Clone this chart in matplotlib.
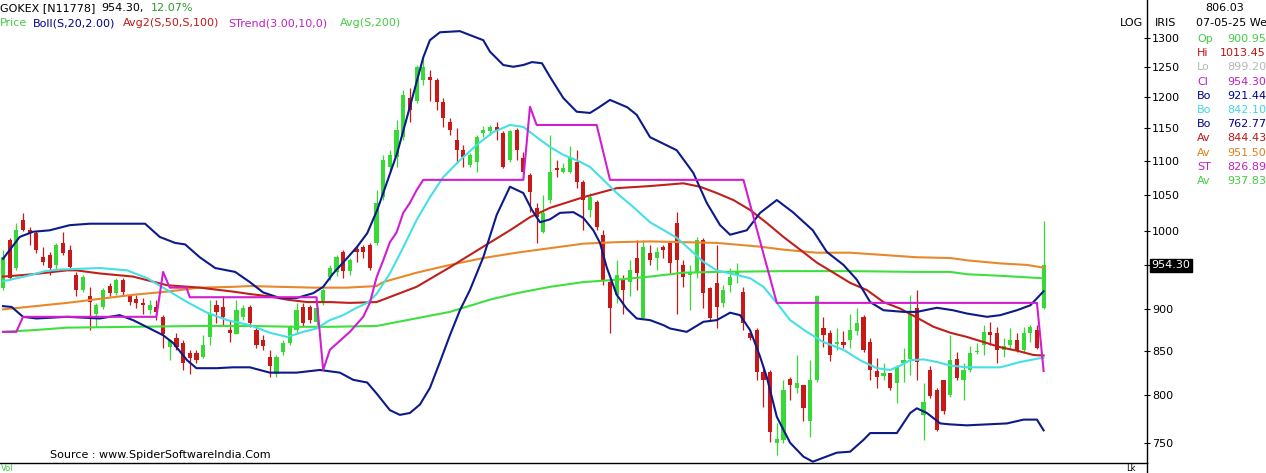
import matplotlib
matplotlib.use("Agg")
import matplotlib.pyplot as plt
from matplotlib.ticker import FixedLocator, FixedFormatter, NullLocator

# ---------------- data ----------------
opens = [925, 988, 951, 1015, 1001, 997, 965, 968, 955, 984,
         975, 942, 923, 915, 894, 902, 928, 919, 936, 915,
         912, 907, 898, 902, 890, 854, 865, 859, 847, 847,
         843, 866, 904, 902, 874, 870, 890, 902, 874, 862,
         843, 824, 849, 859, 874, 902, 902, 884, 908, 939,
         946, 972, 947, 976, 979, 981, 984, 1047, 1091, 1106,
         1136, 1198, 1193, 1228, 1233, 1228, 1192, 1160, 1132, 1116,
         1094, 1098, 1143, 1146, 1152, 1143, 1101, 1147, 1104, 1079,
         1032, 999, 1043, 1089, 1083, 1083, 1098, 1069, 1029, 1040,
         995, 933, 917, 936, 933, 964, 889, 971, 964, 979,
         984, 1011, 955, 942, 945, 988, 926, 932, 907, 929,
         942, 920, 871, 874, 826, 826, 750, 753, 818, 808,
         811, 773, 817, 876, 871, 858, 860, 862, 873, 890,
         860, 827, 821, 825, 813, 836, 841, 901, 779, 828,
         806, 817, 800, 841, 817, 828, 848, 856, 872, 871,
         851, 856, 862, 851, 871, 874, 900.95]
highs = [975, 991, 1011, 1025, 1005, 1000, 979, 972, 984, 999,
         981, 946, 942, 927, 907, 925, 932, 938, 938, 917,
         917, 913, 911, 911, 892, 864, 871, 862, 851, 851,
         868, 911, 911, 915, 886, 911, 904, 904, 878, 868,
         851, 845, 862, 880, 907, 907, 904, 904, 925, 955,
         968, 975, 964, 981, 981, 984, 1057, 1109, 1116, 1163,
         1211, 1214, 1253, 1265, 1245, 1231, 1198, 1166, 1150, 1124,
         1112, 1139, 1153, 1155, 1160, 1146, 1147, 1150, 1113, 1082,
         1039, 1050, 1139, 1101, 1097, 1122, 1116, 1072, 1053, 1043,
         1001, 936, 961, 942, 961, 988, 988, 981, 979, 981,
         987, 1026, 961, 955, 992, 991, 927, 981, 929, 951,
         958, 927, 873, 876, 833, 828, 770, 817, 820, 845,
         811, 839, 917, 890, 874, 876, 873, 894, 901, 892,
         865, 842, 836, 825, 834, 853, 917, 923, 813, 833,
         808, 817, 868, 848, 836, 855, 859, 880, 884, 878,
         865, 876, 871, 878, 880, 880, 1013.45]
lows = [923, 936, 948, 1000, 981, 971, 955, 942, 948, 968,
        951, 915, 921, 874, 878, 899, 916, 917, 917, 904,
        901, 894, 894, 886, 853, 839, 851, 828, 824, 836,
        842, 857, 882, 880, 860, 869, 886, 878, 853, 851,
        820, 820, 845, 857, 870, 879, 882, 880, 904, 936,
        941, 938, 942, 959, 964, 948, 981, 1043, 1083, 1091,
        1132, 1160, 1190, 1219, 1193, 1179, 1152, 1139, 1097, 1091,
        1091, 1083, 1136, 1139, 1132, 1089, 1098, 1101, 1082, 1026,
        984, 998, 1039, 1076, 1082, 1082, 1060, 1001, 1019, 1001,
        929, 871, 907, 894, 915, 923, 888, 955, 948, 964,
        944, 894, 927, 898, 938, 901, 886, 877, 902, 920,
        932, 874, 862, 817, 787, 751, 738, 750, 795, 802,
        773, 756, 815, 854, 838, 851, 853, 853, 868, 849,
        817, 808, 817, 806, 792, 815, 822, 817, 753, 797,
        762, 780, 798, 817, 795, 826, 846, 845, 856, 836,
        843, 851, 849, 849, 860, 852, 899.20]
closes = [965, 938, 1001, 1001, 998, 975, 959, 951, 981, 971,
          952, 923, 939, 908, 904, 923, 919, 936, 920, 908,
          907, 904, 904, 896, 870, 862, 854, 836, 842, 839,
          857, 894, 896, 890, 871, 898, 901, 883, 857, 855,
          832, 843, 859, 878, 898, 882, 886, 901, 923, 951,
          965, 947, 961, 972, 972, 951, 1039, 1101, 1109, 1147,
          1203, 1179, 1250, 1250, 1228, 1192, 1166, 1147, 1116, 1106,
          1109, 1136, 1147, 1152, 1147, 1091, 1146, 1116, 1083, 1054,
          1019, 1025, 1083, 1086, 1089, 1106, 1069, 1043, 1047, 1005,
          936, 901, 942, 923, 948, 945, 979, 961, 972, 975,
          958, 961, 940, 946, 988, 919, 889, 902, 923, 939,
          946, 882, 865, 826, 817, 761, 754, 806, 811, 813,
          786, 817, 915, 868, 845, 860, 857, 874, 882, 851,
          828, 820, 825, 808, 831, 839, 894, 837, 793, 799,
          763, 783, 839, 819, 828, 847, 849, 872, 868, 851,
          855, 862, 850, 871, 878, 853, 954.30]

# indicator lines: (candle index, value)
boll_up_idx = [0, 2.5, 4.5, 7, 10, 13, 21.3, 23.5, 25.8, 27.3, 29.5, 31.8, 34.8, 37, 39, 41.5,
               44, 46.5, 48, 49.5, 51.6, 53.1, 54.6, 56.1, 57, 59.1, 61, 63, 64, 65.5, 68.5,
               70, 72, 73, 75, 76.5, 78, 79.3, 80.8, 82, 84, 86, 88, 89.2, 91, 93.6, 95, 97,
               101, 103.5, 105.5, 107.5, 109, 111.5, 113.5, 116, 118.4, 121.4, 123.5, 126,
               128, 130, 132, 135, 137, 140, 142.4, 144.5, 147.5, 149.5, 152, 154, 156]
boll_up_val = [963, 992, 999, 1001, 1008, 1010, 1010, 992, 984, 982, 965, 951, 946, 933, 920, 913,
               913, 919, 927, 944, 964, 979, 997, 1029, 1053, 1112, 1184, 1266, 1296, 1310, 1312,
               1305, 1296, 1276, 1253, 1250, 1253, 1258, 1256, 1233, 1198, 1176, 1174, 1182, 1195,
               1183, 1171, 1136, 1116, 1082, 1039, 1008, 995, 1001, 1025, 1043, 1026, 1001, 972,
               955, 936, 908, 898, 896, 896, 901, 898, 894, 890, 892, 898, 904, 921.44]

boll_mid_idx = [0, 2.1, 3.7, 6.3, 8.5, 14.5, 18.6, 21.6, 24.6, 27.6, 30.6, 33.6, 37, 40, 42.6, 45,
                47, 49, 51, 53, 54.6, 56, 58, 60, 62, 64, 66, 68.5, 71, 73.5, 76, 78, 80, 82, 84,
                86, 88, 90, 92, 94.5, 97, 101, 103, 105, 107, 110, 112, 114, 116, 118, 120.5, 123,
                126, 128.5, 131, 133, 134.5, 136, 138, 140, 142, 144.5, 147.5, 149.5, 152.5,
                154.5, 156]
boll_mid_val = [934, 938, 941, 947, 949, 951, 948, 938, 923, 908, 895, 886, 880, 871, 866, 872,
                876, 886, 892, 901, 907, 918, 944, 978, 1015, 1047, 1076, 1101, 1124, 1144, 1155,
                1152, 1136, 1121, 1109, 1101, 1091, 1072, 1053, 1033, 1012, 991, 975, 959, 948,
                942, 938, 927, 907, 886, 872, 860, 851, 839, 830, 828, 833, 839, 840, 837, 833,
                831, 831, 831, 837, 840, 842.10]

boll_low_idx = [0, 1.3, 3, 5, 9.6, 14.5, 17.5, 19.5, 22, 24, 25.5, 27.6, 29, 32, 34.5, 37, 40,
                44, 47.5, 50.5, 52.5, 54.6, 56, 58, 59.5, 61, 62.5, 64, 65.5, 67, 68.5, 70, 72,
                74, 76, 78, 79.3, 80.5, 82, 83.5, 85.5, 87, 88.5, 89.5, 90.5, 92, 93.5, 95, 97,
                99, 100, 102.5, 105, 107, 109, 110.5, 112, 113.5, 114.5, 116, 118, 120, 121.4,
                123, 125, 127, 129, 130, 134, 136, 137, 138.5, 140.5, 142, 144.5, 147.5, 150.5,
                153, 155, 156]
boll_low_val = [903, 902, 890, 888, 890, 888, 892, 886, 876, 868, 859, 839, 830, 830, 831, 831,
                825, 825, 828, 825, 817, 814, 802, 784, 779, 781, 790, 808, 837, 868, 898, 923,
                965, 1022, 1062, 1053, 1029, 1012, 1016, 1025, 1026, 1018, 1001, 984, 952, 917,
                900, 888, 886, 880, 876, 872, 884, 886, 895, 892, 874, 843, 820, 777, 750, 736,
                731, 735, 740, 741, 753, 760, 760, 781, 786, 781, 770, 769, 768, 769, 770, 774,
                774, 762.77]

avg50_idx = [0, 4.5, 9.6, 11, 14.5, 19.5, 24.6, 29.5, 34.5, 37, 40, 42.6, 45.6, 49, 52, 56, 62,
             67, 72, 76, 79, 82, 87, 92, 97, 102, 104.5, 107, 109.5, 112, 114.5, 117, 119.5,
             122, 124.5, 127, 129.5, 132, 134.5, 137, 139.5, 142, 144.5, 147, 149.5, 152,
             154.5, 156]
avg50_val = [940, 943, 948, 948, 944, 940, 929, 926, 921, 918, 915, 911, 908, 908, 907, 908, 927,
             952, 979, 1001, 1019, 1032, 1047, 1060, 1063, 1067, 1062, 1053, 1043, 1029, 1011,
             992, 975, 958, 945, 932, 923, 908, 900, 889, 878, 871, 866, 860, 854, 850, 845,
             844.43]

avg100_idx = [0, 9.6, 14.5, 19.5, 24.6, 29.5, 34.5, 37, 41.5, 46.5, 51.6, 56, 57, 62, 67, 72,
              77, 82, 87, 92, 97, 107, 113.5, 117, 122, 127, 132, 137, 142, 144.5, 149.5,
              153.5, 156]
avg100_val = [899, 907, 912, 917, 921, 926, 927, 928, 927, 926, 926, 928, 933, 945, 955, 964,
              971, 977, 983, 985, 986, 984, 979, 975, 971, 971, 968, 965, 964, 961, 957, 955,
              951.50]

avg200_idx = [0, 4.5, 9.6, 19.5, 29.5, 37, 44, 49, 56, 67, 73, 77, 82, 87, 92, 97, 102, 107,
              117, 127, 137, 142, 144.5, 149.5, 156]
avg200_val = [872, 874, 877, 878, 879, 879, 878, 878, 879, 896, 911, 919, 927, 933, 936, 940,
              945, 946, 947, 947, 946, 946, 943, 941, 937.83]

strend_idx = [0, 2, 3, 23, 24, 25, 27.5, 28, 47, 48, 49, 51, 52, 54, 55, 56, 57, 58, 59, 60, 61,
              62, 63, 78, 79, 80, 89, 91, 111, 116, 155, 156]
strend_val = [872, 872, 890, 890, 946, 926, 926, 914, 914, 828, 851, 865, 872, 890, 907, 939,
              961, 985, 998, 1025, 1039, 1057, 1072, 1072, 1184, 1155, 1155, 1072, 1072, 907,
              907, 826.89]

ytick_vals = [750, 800, 850, 900, 1000, 1050, 1100, 1150, 1200, 1250, 1300]
ytick_labels = ["750", "800", "850", "900", "1000", "1050", "1100", "1150", "1200", "1250", "1300"]

info_labels = ["Op", "Hi", "Lo", "Cl", "Bo", "Bo", "Bo", "Av", "Av", "ST", "Av"]
info_values = ["900.95", "1013.45", "899.20", "954.30", "921.44", "842.10", "762.77",
               "844.43", "951.50", "826.89", "937.83"]

# ---------------- style ----------------
GREEN_C = "#36d936"
RED_C = "#c81818"
NAVY = "#0c1a8a"
CYAN = "#45e0e6"
RED_L = "#c0201a"
ORANGE = "#e8882a"
GREEN_L = "#3ee03e"
MAGENTA = "#d01ed0"
info_colors = ["#44cc44", "#c01010", "#b8b8b8", "#c020c0", "#000090", "#40d8e0", "#000090",
               "#c01818", "#e08020", "#c020c0", "#44cc44"]

W, H = 1266, 473
fig = plt.figure(figsize=(W / 100, H / 100), dpi=100)
fig.patch.set_facecolor("white")
ax = fig.add_axes([0, 10 / H, 1147 / W, 463 / H])
ax.set_yscale("log")

# candles
n = len(closes)
xs = list(range(n))
for i in xs:
    o, h, l, c = opens[i], highs[i], lows[i], closes[i]
    col = GREEN_C if c >= o else RED_C
    ax.vlines(i, l, h, color=col, lw=0.9, zorder=2)
    lo_b, hi_b = min(o, c), max(o, c)
    if hi_b / lo_b < 1.002:
        hi_b = lo_b * 1.002
    ax.bar(i, hi_b - lo_b, bottom=lo_b, width=0.62, color=col, lw=0, zorder=2)

# indicator lines
lw = 1.5
ax.plot(avg200_idx, avg200_val, color=GREEN_L, lw=lw, zorder=3)
ax.plot(avg100_idx, avg100_val, color=ORANGE, lw=lw, zorder=3)
ax.plot(avg50_idx, avg50_val, color=RED_L, lw=lw, zorder=3)
ax.plot(boll_mid_idx, boll_mid_val, color=CYAN, lw=lw, zorder=3)
ax.plot(boll_up_idx, boll_up_val, color=NAVY, lw=lw, zorder=4)
ax.plot(boll_low_idx, boll_low_val, color=NAVY, lw=lw, zorder=4)
ax.plot(strend_idx, strend_val, color=MAGENTA, lw=lw, zorder=4)

ax.set_xlim(-0.45, 171.5)
ax.set_ylim(729.7, 1368.7)
ax.xaxis.set_major_locator(NullLocator())
ax.xaxis.set_minor_locator(NullLocator())
ax.yaxis.set_major_locator(FixedLocator(ytick_vals + [954.3]))
ax.yaxis.set_major_formatter(FixedFormatter(ytick_labels + [""]))
ax.yaxis.set_minor_locator(NullLocator())
ax.yaxis.tick_right()
ax.tick_params(axis="y", direction="inout", length=5, width=0.8, pad=1,
               labelsize=8, colors="black")
for s in ["left", "top"]:
    ax.spines[s].set_visible(False)
ax.spines["right"].set_linewidth(1.0)
ax.spines["bottom"].set_linewidth(1.0)

# last price box
ax.annotate("954.30", xy=(1.0, 954.3), xycoords=ax.get_yaxis_transform(),
            xytext=(3, 0), textcoords="offset points", ha="left", va="center",
            fontsize=8, color="white",
            bbox=dict(boxstyle="square,pad=0.15", fc="black", ec="black"))

# volume pane fragments
fig.add_artist(plt.Line2D([1147 / W, 1147 / W], [0, 10 / H], color="black", lw=1.0))


def ftext(x, y, s, **kw):
    kw.setdefault("fontsize", 8)
    kw.setdefault("va", "center")
    fig.text(x / W, 1 - y / H, s, **kw)


ftext(1, 473, "Vol", color="#44cc44", fontsize=6, va="bottom")
ftext(1126, 473, "Lk", color="black", fontsize=6, va="bottom")

# header
ftext(0, 8, "GOKEX [N11778]", color="black")
ftext(101, 8, "954.30,", color="black")
ftext(151, 8, "12.07%", color="#2f9a2f")
ftext(0, 23, "Price", color="#44cc44")
ftext(33, 23, "Boll(S,20,2.00)", color="#000090")
ftext(123, 23, "Avg2(S,50,S,100)", color="#c01818")
ftext(228, 23, "STrend(3.00,10,0)", color="#c020c0")
ftext(340, 23, "Avg(S,200)", color="#44cc44")

ftext(50, 455, "Source : www.SpiderSoftwareIndia.Com", color="black")

# right panel
ftext(1120, 23, "LOG", color="black")
ftext(1155, 23, "IRIS", color="black")
ftext(1205, 8, "806.03", color="black")
ftext(1196, 23, "07-05-25 We", color="black")
for k, (lab, val, col) in enumerate(zip(info_labels, info_values, info_colors)):
    yy = 39 + k * 14.2
    ftext(1197, yy, lab, color=col)
    ftext(1266, yy, val, color=col, ha="right")

fig.savefig("out.png", dpi=100)
